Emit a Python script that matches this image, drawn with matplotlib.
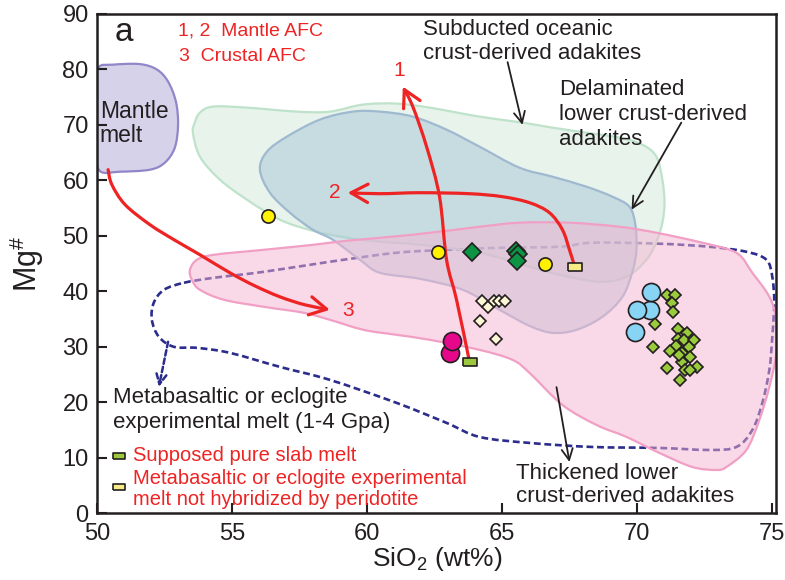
import numpy as np
import matplotlib
matplotlib.use('Agg')
import matplotlib.pyplot as plt
from matplotlib.path import Path
from matplotlib.patches import PathPatch, FancyArrowPatch

plt.rcParams['font.family'] = ['Liberation Sans', 'DejaVu Sans']
plt.rcParams['mathtext.fontset'] = 'custom'
plt.rcParams['mathtext.rm'] = 'Liberation Sans'
plt.rcParams['mathtext.it'] = 'Liberation Sans:italic'

# ---- field outlines, (SiO2, Mg#) ----
mantle_melt = [(49.95, 76.0), (50.05, 80.3), (50.6, 80.85), (51.59, 80.95), (52.22, 79.96),
               (52.63, 77.8), (52.92, 74.19), (53.0, 70.04), (52.88, 65.88), (52.51, 63.18),
               (51.96, 61.91), (50.85, 61.55), (50.1, 61.7), (49.95, 66.0)]

subducted = [(53.62, 70.4), (53.81, 72.2), (54.29, 73.29), (55.55, 73.1), (57.4, 72.38),
             (58.62, 72.38), (59.84, 73.65), (61.09, 73.83), (62.32, 73.1), (64.16, 71.48),
             (65.75, 70.4), (66.86, 69.49), (68.12, 68.59), (69.34, 67.69), (70.19, 66.43),
             (70.71, 64.26), (70.93, 60.11), (71.01, 55.96), (70.93, 52.35), (70.71, 48.92),
             (70.34, 45.67), (69.6, 42.6), (68.6, 41.7), (67.12, 42.96), (66.01, 44.4),
             (64.16, 46.93), (61.95, 48.38), (60.47, 48.92), (59.25, 49.64), (57.99, 50.9),
             (56.77, 52.89), (55.55, 56.5), (54.55, 60.11), (53.81, 64.26), (53.55, 68.59)]

delaminated = [(56.03, 61.91), (56.29, 65.16), (57.03, 67.87), (58.25, 70.94), (59.47, 72.38),
               (60.47, 72.38), (61.69, 71.48), (62.94, 69.13), (64.16, 66.06), (65.64, 62.27),
               (66.86, 60.65), (68.12, 58.84), (69.08, 57.04), (69.71, 55.23), (69.93, 51.99),
               (69.97, 47.47), (69.82, 43.5), (69.45, 38.99), (68.71, 35.38), (67.75, 33.03),
               (66.86, 32.49), (66.01, 33.75), (64.9, 36.64), (63.54, 40.25), (61.95, 42.24),
               (60.47, 43.32), (59.73, 45.67), (58.73, 49.28), (57.99, 51.08), (57.14, 54.15),
               (56.4, 57.76)]

thickened = [(53.44, 43.86), (53.7, 45.67), (54.33, 46.57), (56.18, 47.47), (58.03, 48.38),
             (59.25, 49.1), (61.69, 50.18), (64.16, 51.62), (65.64, 52.35), (67.49, 52.35),
             (69.34, 51.62), (70.71, 50.54), (72.41, 48.74), (73.67, 46.93), (74.26, 43.32),
             (74.89, 38.99), (75.15, 34.84), (75.15, 28.88), (74.89, 22.74), (74.52, 16.79),
             (74.04, 11.37), (73.3, 8.3), (72.93, 7.76), (72.04, 8.3), (70.82, 10.83),
             (69.6, 13.72), (68.49, 15.88), (67.23, 19.49), (66.01, 25.27), (65.38, 27.62),
             (64.16, 29.42), (62.32, 31.23), (61.09, 32.13), (59.87, 33.03), (58.62, 34.84),
             (57.66, 36.1), (56.18, 37.18), (54.7, 38.45), (53.81, 40.25), (53.51, 42.06)]

experimental = [(53.22, 41.52), (54.33, 42.42), (56.18, 43.5), (58.62, 45.31), (61.09, 46.93),
                (63.05, 47.47), (64.9, 47.83), (67.12, 48.01), (68.34, 48.74), (70.82, 48.56),
                (72.67, 48.01), (74.04, 47.11), (74.78, 45.67), (75.0, 42.6), (75.07, 37.91),
                (75.0, 31.77), (74.89, 25.81), (74.63, 19.86), (74.26, 14.98), (73.67, 11.91),
                (72.67, 11.37), (70.82, 11.73), (68.34, 11.91), (66.01, 12.64), (64.16, 13.72),
                (62.94, 16.25), (61.09, 19.86), (58.62, 24.01), (56.77, 26.35), (54.92, 28.88),
                (53.7, 29.78), (52.85, 29.96), (52.29, 31.77), (52.03, 34.84), (52.1, 37.91),
                (52.48, 40.25)]

# ---- AFC trends ----
afc1 = [(63.79, 27.26), (63.31, 38.45), (62.94, 45.67), (62.68, 57.04), (62.2, 66.06),
        (61.69, 73.29), (61.32, 76.9)]
afc2 = [(67.64, 45.13), (67.49, 47.47), (67.23, 51.08), (66.75, 54.15), (66.01, 55.96),
        (65.01, 57.04), (63.79, 57.58), (61.95, 57.76), (60.47, 57.58), (59.28, 57.76)]
afc3 = [(50.41, 61.91), (50.55, 59.21), (51.04, 55.6), (51.96, 51.99), (52.85, 49.28),
        (53.81, 46.57), (54.92, 43.32), (55.84, 40.97), (56.77, 38.99), (57.69, 37.55),
        (58.62, 36.64)]

# ---- samples ----
yellow_x = [56.33, 62.64, 66.6]
yellow_y = [53.5, 47.06, 44.9]
dkgreen_x = [63.9, 65.52, 65.6, 65.54]
dkgreen_y = [47.0, 47.2, 46.7, 45.5]
cream_x = [64.27, 64.46, 64.7, 64.89, 65.09, 64.19, 64.76]
cream_y = [38.3, 37.1, 38.3, 38.3, 38.3, 34.7, 31.4]
magenta_x = [63.07, 63.13]
magenta_y = [28.9, 31.1]
blue_x = [70.46, 70.5, 69.98, 69.93]
blue_y = [36.6, 39.8, 36.6, 32.7]
lime_x = [71.1, 71.41, 71.28, 71.34, 70.64, 71.49, 71.84, 71.49, 71.74, 72.09, 71.9, 71.44,
          71.22, 71.65, 70.58, 71.94, 71.65, 72.21, 71.1, 71.78, 71.96, 71.59, 71.53]
lime_y = [39.35, 39.35, 37.96, 36.16, 34.1, 33.2, 32.5, 31.3, 31.2, 31.2, 29.9, 30.1,
          29.3, 28.8, 30.0, 28.1, 27.3, 26.3, 26.1, 25.7, 25.8, 23.9, 28.5]
slab_melt = (63.81, 27.3)
unhybrid_melt = (67.69, 44.4)

xticks = [50, 55, 60, 65, 70, 75]
yticks = [0, 10, 20, 30, 40, 50, 60, 70, 80, 90]

RED = '#ee2424'
NAVY = '#2b2c8c'
TXT = '#231f20'


def smooth_path(pts, closed=True):
    # Catmull-Rom through the points, written as cubic Bezier segments
    p = np.asarray(pts, float)
    n = len(p)
    verts = [p[0]]
    codes = [Path.MOVETO]
    nseg = n if closed else n - 1
    for i in range(nseg):
        p0 = p[(i - 1) % n] if (closed or i > 0) else p[i]
        p1 = p[i % n]
        p2 = p[(i + 1) % n]
        p3 = p[(i + 2) % n] if (closed or i + 2 < n) else p2
        verts += [p1 + (p2 - p0) / 6.0, p2 - (p3 - p1) / 6.0, p2]
        codes += [Path.CURVE4] * 3
    if closed:
        verts.append(p[0])
        codes.append(Path.CLOSEPOLY)
    return Path(np.array(verts), codes)


fig = plt.figure(figsize=(7.85, 5.8), dpi=100)
ax = fig.add_axes([0.1236, 0.1155, 0.8654, 0.8605])

# experimental melt field (dashed, under the coloured fields)
ax.add_patch(PathPatch(smooth_path(experimental), fill=False, ec=NAVY, lw=1.9,
                       ls=(0, (2.6, 1.4)), zorder=1))
ax.add_patch(PathPatch(smooth_path(subducted), fc='#d0e9d8', ec='none', alpha=0.5, zorder=1.1))
ax.add_patch(PathPatch(smooth_path(subducted), fill=False, ec='#bfe2cb', lw=1.6, zorder=1.1))
ax.add_patch(PathPatch(smooth_path(delaminated), fc='#a9c7d8', ec='none', alpha=0.5, zorder=1.2))
ax.add_patch(PathPatch(smooth_path(delaminated), fill=False, ec='#9fb9d0', lw=1.6, zorder=1.2))
ax.add_patch(PathPatch(smooth_path(thickened), fc='#f5b3d0', ec='none', alpha=0.5, zorder=1.3))
ax.add_patch(PathPatch(smooth_path(thickened), fill=False, ec='#f19fc5', lw=1.6, zorder=1.3))
ax.add_patch(PathPatch(smooth_path(mantle_melt), fc='#d6d2ea', ec='#8f87c8', lw=1.6, zorder=1.4))

# dashed arrow from experimental field to its label
ax.annotate('', xy=(52.29, 22.74), xytext=(52.63, 30.87),
            arrowprops=dict(arrowstyle='->', color=NAVY, lw=1.8, ls=(0, (2.2, 1.2)),
                            mutation_scale=18, shrinkA=0, shrinkB=0), zorder=3)

# AFC trends
for trend in (afc1, afc2, afc3):
    ax.add_patch(FancyArrowPatch(path=smooth_path(trend, closed=False),
                                 arrowstyle='->,head_length=0.55,head_width=0.3',
                                 mutation_scale=22, color=RED, lw=2.3, zorder=3))
ax.text(61.2, 79.8, '1', color=RED, fontsize=15, ha='center', va='center')
ax.text(58.8, 57.8, '2', color=RED, fontsize=15, ha='center', va='center')
ax.text(59.3, 36.6, '3', color=RED, fontsize=15, ha='center', va='center')

# samples
mk = dict(ls='none', mec='#231f20', mew=1.2, zorder=5)
ax.plot(lime_x, lime_y, 'D', ms=6.0, mfc='#9acb3c', **mk)
ax.plot(blue_x, blue_y, 'o', ms=13, mfc='#88d4f4', **mk)
ax.plot(cream_x, cream_y, 'D', ms=6.2, mfc='#fdf8d4', **mk)
ax.plot(magenta_x, magenta_y, 'o', ms=13, mfc='#e5088b', **mk)
ax.plot(dkgreen_x, dkgreen_y, 'D', ms=9.2, mfc='#0c9444', **mk)
ax.plot(yellow_x, yellow_y, 'o', ms=9.5, mfc='#fff100', **mk)
rect = [(-1, -0.55), (1, -0.55), (1, 0.55), (-1, 0.55), (-1, -0.55)]
ax.plot(*slab_melt, marker=rect, ms=9.5, mfc='#9bc83c', **mk)
ax.plot(*unhybrid_melt, marker=rect, ms=9.5, mfc='#f6eb87', **mk)

# labels inside the plot
ax.text(50.65, 86.6, 'a', fontsize=24, color=TXT, ha='left', va='center')
ax.text(53.0, 87.0, '1, 2  Mantle AFC', fontsize=14, color=RED, va='center')
ax.text(53.05, 82.3, '3  Crustal AFC', fontsize=14, color=RED, va='center')
ax.text(50.1, 72.4, 'Mantle', fontsize=16.5, color=TXT, va='center')
ax.text(50.1, 68.0, 'melt', fontsize=16.5, color=TXT, va='center')

txt = dict(fontsize=16, color=TXT, va='center')
ax.text(62.05, 87.2, 'Subducted oceanic', **txt)
ax.text(62.05, 82.8, 'crust-derived adakites', **txt)
ax.annotate('', xy=(65.75, 70.0), xytext=(65.2, 81.3),
            arrowprops=dict(arrowstyle='->', color=TXT, lw=1.3, mutation_scale=20,
                            shrinkA=0, shrinkB=0))

ax.text(67.1, 76.35, 'Delaminated', **txt)
ax.text(67.1, 71.85, 'lower crust-derived', **txt)
ax.text(67.1, 67.35, 'adakites', **txt)
ax.annotate('', xy=(69.79, 54.7), xytext=(71.63, 70.4),
            arrowprops=dict(arrowstyle='->', color=TXT, lw=1.3, mutation_scale=20,
                            shrinkA=0, shrinkB=0))

ax.text(65.5, 7.2, 'Thickened lower', **txt)
ax.text(65.5, 2.9, 'crust-derived adakites', **txt)
ax.annotate('', xy=(67.49, 9.2), xytext=(67.01, 22.7),
            arrowprops=dict(arrowstyle='->', color=TXT, lw=1.3, mutation_scale=20,
                            shrinkA=0, shrinkB=0))

ax.text(50.6, 20.8, 'Metabasaltic or eclogite', **txt)
ax.text(50.6, 16.25, 'experimental melt (1-4 Gpa)', **txt)
ax.plot(50.81, 10.3, marker=rect, ms=9, mfc='#9bc83c', **mk)
ax.text(51.33, 10.45, 'Supposed pure slab melt', fontsize=14.5, color=RED, va='center')
ax.plot(50.81, 4.7, marker=rect, ms=9, mfc='#f6eb87', **mk)
ax.text(51.33, 6.3, 'Metabasaltic or eclogite experimental', fontsize=14.5, color=RED, va='center')
ax.text(51.33, 2.35, 'melt not hybridized by peridotite', fontsize=14.5, color=RED, va='center')

# axes
ax.set_xlim(50, 75.15)
ax.set_ylim(0, 90)
ax.set_xticks(xticks)
ax.set_yticks(yticks)
ax.tick_params(direction='in', length=7, width=1.5, colors=TXT, labelsize=17)
ax.tick_params(axis='y', pad=6)
ax.tick_params(axis='x', pad=7)
for sp in ax.spines.values():
    sp.set_linewidth(1.8)
    sp.set_color(TXT)
ax.set_xlabel(r'SiO$_2$ (wt%)', fontsize=19, color=TXT, labelpad=0)
ax.set_ylabel(r'Mg$^{\#}$', fontsize=22, color=TXT, labelpad=12)

fig.savefig('out.png', dpi=100)
